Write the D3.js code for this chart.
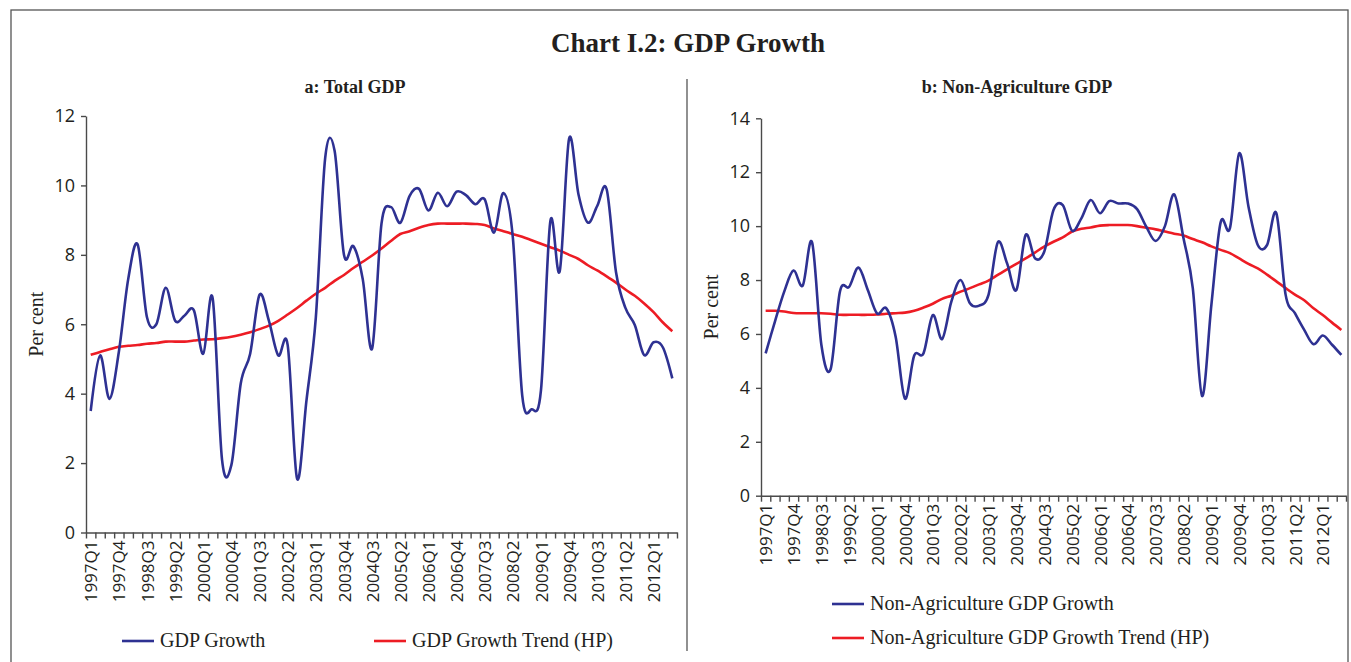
<!DOCTYPE html>
<html>
  <head>
    <script src="https://d3js.org/d3.v7.min.js"></script>
    <style>
      body{ margin: 0; background: #fff; }
      .serif{ font-family: "Liberation Serif", serif; fill: #231f20; }
      .tick text{ font-family: "Open Sans", sans-serif; fill: #231f20; }
      .axis path, .axis line{ stroke: #4a4a4a; stroke-width: 1.4; }
    </style>
  </head>
  <body>
    <svg id="chart" width=1351 height=662></svg>
    <script>
      const quarters = [
        "1997Q1","1997Q2","1997Q3","1997Q4","1998Q1","1998Q2","1998Q3","1998Q4",
        "1999Q1","1999Q2","1999Q3","1999Q4","2000Q1","2000Q2","2000Q3","2000Q4",
        "2001Q1","2001Q2","2001Q3","2001Q4","2002Q1","2002Q2","2002Q3","2002Q4",
        "2003Q1","2003Q2","2003Q3","2003Q4","2004Q1","2004Q2","2004Q3","2004Q4",
        "2005Q1","2005Q2","2005Q3","2005Q4","2006Q1","2006Q2","2006Q3","2006Q4",
        "2007Q1","2007Q2","2007Q3","2007Q4","2008Q1","2008Q2","2008Q3","2008Q4",
        "2009Q1","2009Q2","2009Q3","2009Q4","2010Q1","2010Q2","2010Q3","2010Q4",
        "2011Q1","2011Q2","2011Q3","2011Q4","2012Q1","2012Q2","2012Q3"
      ];

      const gdpGrowth = [
        3.5, 5.1, 3.85, 5.2, 7.3, 8.3, 6.2, 6.0, 7.05, 6.1,
        6.25, 6.4, 5.15, 6.75, 2.1, 1.95, 4.3, 5.15, 6.85, 6.1,
        5.1, 5.4, 1.55, 3.8, 6.2, 10.8, 11.0, 8.0, 8.25, 7.3,
        5.3, 8.9, 9.38, 8.92, 9.7, 9.9, 9.28, 9.79, 9.4, 9.82,
        9.72, 9.46, 9.6, 8.64, 9.78, 8.5, 3.95, 3.55, 4.1, 8.97,
        7.53, 11.35, 9.74, 8.93, 9.41, 9.89, 7.5, 6.47, 5.98, 5.11,
        5.48, 5.33, 4.44
      ];
      const gdpTrend = [
        5.12, 5.2, 5.28, 5.35, 5.38, 5.4, 5.44, 5.46, 5.5, 5.5,
        5.5, 5.53, 5.56, 5.57, 5.6, 5.64, 5.7, 5.77, 5.86, 5.96,
        6.1, 6.28, 6.47, 6.68, 6.88, 7.05, 7.25, 7.42, 7.62, 7.8,
        7.98, 8.18, 8.4, 8.6, 8.68, 8.78, 8.86, 8.9, 8.9, 8.9,
        8.9, 8.89, 8.86, 8.76, 8.68, 8.6, 8.52, 8.42, 8.32, 8.22,
        8.12, 8.0, 7.88, 7.7, 7.55, 7.38, 7.2, 7.0, 6.82, 6.6,
        6.35, 6.05, 5.8
      ];
      const nonAgGrowth = [
        5.28, 6.46, 7.57, 8.35, 7.8, 9.4, 5.6, 4.7, 7.57, 7.75,
        8.46, 7.63, 6.76, 6.95, 5.9, 3.6, 5.2, 5.28, 6.7, 5.81,
        7.2, 8.0, 7.14, 7.05, 7.45, 9.4, 8.62, 7.63, 9.67, 8.81,
        9.05, 10.6, 10.78, 9.83, 10.29, 10.97, 10.48, 10.93, 10.84, 10.84,
        10.63, 9.97, 9.45, 10.0, 11.18, 9.55, 7.7, 3.7, 7.07, 10.14,
        9.92, 12.7, 10.72, 9.3, 9.3, 10.48, 7.45, 6.77, 6.15, 5.62,
        5.94, 5.6, 5.22
      ];
      const nonAgTrend = [
        6.86, 6.86, 6.83, 6.78, 6.77, 6.77, 6.77, 6.75, 6.71, 6.71,
        6.71, 6.71, 6.72, 6.75, 6.77, 6.79, 6.86, 6.98, 7.12, 7.3,
        7.42, 7.57, 7.7, 7.84, 7.98, 8.19, 8.4, 8.6, 8.8, 9.02,
        9.24, 9.42, 9.58, 9.8, 9.9, 9.95, 10.02, 10.04, 10.04, 10.04,
        10.0, 9.94, 9.88, 9.8, 9.72, 9.65, 9.52, 9.4, 9.25, 9.12,
        9.0, 8.8, 8.6, 8.43, 8.2, 7.95, 7.7, 7.46, 7.25, 6.95,
        6.7, 6.42, 6.15
      ];

      const blue = "#2e3192";
      const red = "#ed1c24";

      const svg = d3.select("#chart");

      // outer frame and divider
      svg.append("rect").attr("x", 11).attr("y", 10).attr("width", 1337).attr("height", 660)
        .attr("fill", "none").attr("stroke", "#555").attr("stroke-width", 1.3);
      svg.append("line").attr("x1", 687).attr("x2", 687).attr("y1", 79).attr("y2", 651)
        .attr("stroke", "#555").attr("stroke-width", 1.3);

      svg.append("text").attr("class", "serif")
        .attr("x", 688).attr("y", 52)
        .attr("text-anchor", "middle")
        .style("font-size", "27px").style("font-weight", "bold")
        .text("Chart I.2: GDP Growth");

      function panel(opts){
        const x = d3.scaleLinear().domain([0, quarters.length]).range([opts.left, opts.right]);
        const y = d3.scaleLinear().domain([0, opts.ymax]).range([opts.bottom, opts.top]);

        svg.append("text").attr("class", "serif")
          .attr("x", opts.titleX).attr("y", 93)
          .attr("text-anchor", "middle")
          .style("font-size", "18px").style("font-weight", "bold")
          .text(opts.title);

        // y axis
        svg.append("g").attr("class", "axis")
          .attr("transform", "translate(" + opts.left + ",0)")
          .call(d3.axisLeft(y).tickValues(d3.range(0, opts.ymax + 1, 2)).tickSize(5).tickSizeOuter(0).tickPadding(6))
          .selectAll("text").style("font-size", "18px");

        // x axis: tick marks on quarter boundaries
        svg.append("g").attr("class", "axis")
          .attr("transform", "translate(0," + opts.bottom + ")")
          .call(d3.axisBottom(x).tickValues(d3.range(0, quarters.length + 1)).tickSize(6).tickSizeOuter(0).tickFormat(""));

        // x labels every third quarter, centred in the band
        const labelIdx = d3.range(0, quarters.length, 3);
        const lab = svg.append("g").attr("class", "axis")
          .attr("transform", "translate(0," + opts.bottom + ")")
          .call(d3.axisBottom(x).tickValues(labelIdx.map(i => i + 0.5)).tickSize(0)
            .tickFormat(v => quarters[Math.round(v - 0.5)]));
        lab.select(".domain").remove();
        lab.selectAll("text")
          .style("font-size", "17px")
          .attr("text-anchor", "end")
          .attr("transform", "rotate(-90)")
          .attr("x", -8).attr("y", 0).attr("dy", "0.36em");

        svg.append("text").attr("class", "serif")
          .attr("transform", "translate(" + opts.ylabX + "," + ((opts.top + opts.bottom) / 2) + ") rotate(-90)")
          .attr("text-anchor", "middle")
          .style("font-size", "20px")
          .text("Per cent");

        const line = d3.line()
          .x((d, i) => x(i + 0.5))
          .y(d => y(d))
          .curve(d3.curveCardinal);

        svg.append("path").datum(opts.trend)
          .attr("d", line).attr("fill", "none")
          .attr("stroke", red).attr("stroke-width", 2.6);
        svg.append("path").datum(opts.growth)
          .attr("d", line).attr("fill", "none")
          .attr("stroke", blue).attr("stroke-width", 2.6);

        // legend
        opts.legend.forEach(function(l){
          svg.append("line")
            .attr("x1", l.x).attr("x2", l.x + 32).attr("y1", l.y).attr("y2", l.y)
            .attr("stroke", l.color).attr("stroke-width", 2.6);
          svg.append("text").attr("class", "serif")
            .attr("x", l.x + 38).attr("y", l.y + 6)
            .style("font-size", "20px")
            .text(l.label);
        });
      }

      panel({
        left: 86, right: 677, top: 116, bottom: 532.5, ymax: 12,
        title: "a: Total GDP", titleX: 355, ylabX: 43,
        growth: gdpGrowth, trend: gdpTrend,
        legend: [
          {x: 122, y: 641, color: blue, label: "GDP Growth"},
          {x: 374, y: 641, color: red, label: "GDP Growth Trend (HP)"}
        ]
      });

      panel({
        left: 761, right: 1346, top: 118.3, bottom: 495.7, ymax: 14,
        title: "b: Non-Agriculture GDP", titleX: 1017, ylabX: 718,
        growth: nonAgGrowth, trend: nonAgTrend,
        legend: [
          {x: 832, y: 604, color: blue, label: "Non-Agriculture GDP Growth"},
          {x: 832, y: 638, color: red, label: "Non-Agriculture GDP Growth Trend (HP)"}
        ]
      });
    </script>
  </body>
</html>
